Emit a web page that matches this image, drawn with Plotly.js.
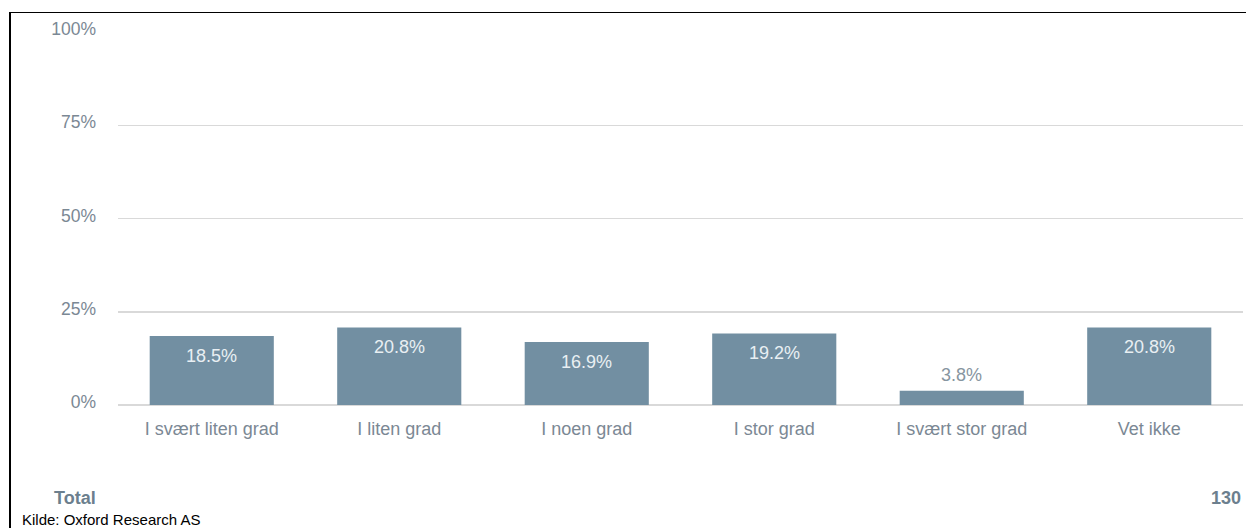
<!DOCTYPE html>
<html>
<head>
<meta charset="utf-8">
<script src="https://cdn.plot.ly/plotly-3.0.1.min.js"></script>
<style>
html,body{margin:0;padding:0;background:#fff;overflow:hidden;}
#wrap{position:relative;width:1246px;height:528px;}
#chart{position:absolute;left:0;top:0;width:1246px;height:528px;}
#frame{position:absolute;left:9px;top:12px;right:0;bottom:0;border-left:2px solid #000;border-top:1.5px solid #000;pointer-events:none;}
</style>
</head>
<body>
<div id="wrap"><div id="chart"></div><div id="frame"></div></div>
<script>
const categories = ["I svært liten grad","I liten grad","I noen grad","I stor grad","I svært stor grad","Vet ikke"];
const values = [18.5, 20.8, 16.9, 19.2, 3.8, 20.8];
const tickVals = [0, 25, 50, 75, 100];
const tickText = ["0%","25%","50%","75%","100%"];
const totalLabel = "Total";
const totalN = "130";
const sourceText = "Kilde: Oxford Research AS";

const FONT = "Arial, 'Liberation Sans', sans-serif";
const barColor = "#728fa2";
const textGrey = "#7b8894";

const annotations = categories.map((c, i) => {
  const inside = values[i] >= 8;
  return {
    x: c, y: values[i], xref: "x", yref: "y",
    text: values[i].toFixed(1) + "%",
    showarrow: false,
    yshift: inside ? -20 : 16,
    font: {family: FONT, size: 18, color: inside ? "#e9eff3" : "#8795a0"}
  };
});
annotations.push(
  {xref:"paper", yref:"paper", x:-0.0585, y:-0.248, xanchor:"left", yanchor:"middle", text:"<b>"+totalLabel+"</b>", showarrow:false, font:{family:FONT,size:18,color:"#6c7f8e"}},
  {xref:"paper", yref:"paper", x:1.0, y:-0.248, xanchor:"right", yanchor:"middle", text:"<b>"+totalN+"</b>", showarrow:false, font:{family:FONT,size:18,color:"#6c7f8e"}},
  {xref:"paper", yref:"paper", x:-0.087, y:-0.308, xanchor:"left", yanchor:"middle", text:sourceText, showarrow:false, font:{family:FONT,size:15,color:"#000"}}
);

const data = [{
  type: "bar",
  x: categories,
  y: values,
  marker: {color: barColor},
  hoverinfo: "none"
}];

const layout = {
  width: 1246, height: 528,
  margin: {l: 118, r: 3, t: 32, b: 123},
  paper_bgcolor: "#fff", plot_bgcolor: "#fff",
  bargap: 0.338,
  showlegend: false,
  xaxis: {
    type: "category",
    showgrid: false, zeroline: false, showline: false,
    ticks: "", ticklabelstandoff: 11,
    tickfont: {family: FONT, size: 18, color: textGrey}
  },
  yaxis: {
    range: [0, 100],
    tickvals: tickVals, ticktext: tickText,
    showgrid: true, gridcolor: "#d9d9d9", gridwidth: 1.5,
    zeroline: true, zerolinecolor: "#d9d9d9", zerolinewidth: 1.5,
    showline: false, ticks: "", ticklabelstandoff: 21, ticklabelshift: -3,
    tickfont: {family: FONT, size: 17.5, color: textGrey}
  },
  annotations: annotations
};

Plotly.newPlot("chart", data, layout, {displayModeBar: false, staticPlot: true});
</script>
</body>
</html>
